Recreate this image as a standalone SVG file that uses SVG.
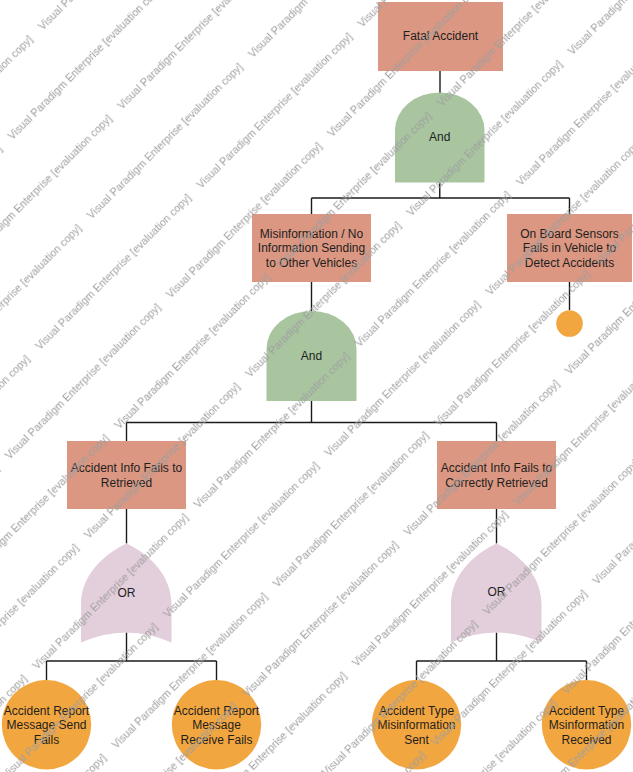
<svg xmlns="http://www.w3.org/2000/svg" width="633" height="772" viewBox="0 0 633 772">
  <style>
    .event { fill: #DB9782; }
    .basic { fill: #F2A640; }
    .and-gate { fill: #A9C5A0; }
    .or-gate { fill: #E3CEDC; }
    .label { font-family: "Liberation Sans", Arial, sans-serif; font-size: 12px; fill: #1e1e1e; text-anchor: middle; }
    .wire { fill: none; stroke: #1a1a1a; stroke-width: 1.4; }
    .wm { font-family: "Liberation Sans", Arial, sans-serif; font-size: 10.7px; letter-spacing: 0.05px; fill: #9e9e9e; }
  </style>
  <defs>
    <pattern id="watermark" patternUnits="userSpaceOnUse" width="228" height="112" patternTransform="rotate(-45)">
      <text class="wm" x="8.5" y="52">Visual Paradigm Enterprise [evaluation copy]</text>
      <text class="wm" x="137.5" y="108">Visual Paradigm Enterprise [evaluation copy]</text>
      <text class="wm" x="-90.5" y="108">Visual Paradigm Enterprise [evaluation copy]</text>
    </pattern>
  </defs>

  <rect width="633" height="772" fill="#ffffff"/>

  <!-- connectors -->
  <g id="connectors" class="wire">
    <path d="M440,71 V93"/>
    <path d="M439.75,182.5 V198"/>
    <path d="M311.5,198 H569.5"/>
    <path d="M311.5,198 V214"/>
    <path d="M569.5,198 V214"/>
    <path d="M311.5,282 V311"/>
    <path d="M569.5,282 V310"/>
    <path d="M311.5,401 V422.5"/>
    <path d="M126.5,422.5 H496.5"/>
    <path d="M126.5,422.5 V441"/>
    <path d="M496.5,422.5 V441"/>
    <path d="M126.5,509 V543.5"/>
    <path d="M496.5,509 V543.5"/>
    <path d="M126.5,632.5 V661"/>
    <path d="M46.5,661 H216.5"/>
    <path d="M46.5,661 V680"/>
    <path d="M216.5,661 V680"/>
    <path d="M496.5,632.5 V661"/>
    <path d="M416.5,661 H586.5"/>
    <path d="M416.5,661 V680"/>
    <path d="M586.5,661 V680"/>
  </g>

  <!-- top event -->
  <g id="fatal-accident">
    <rect class="event" x="378" y="2" width="125" height="69"/>
    <text class="label" x="440.5" y="40">Fatal Accident</text>
  </g>

  <g id="and-gate-1">
    <path class="and-gate" d="M395,182.5 L395,130 A44.75,37.5 0 0 1 484.5,130 L484.5,182.5 Z"/>
    <text class="label" x="439.75" y="141">And</text>
  </g>

  <g id="misinformation">
    <rect class="event" x="252" y="214" width="119" height="68"/>
    <text class="label" x="311.5" y="237.5">Misinformation / No</text>
    <text class="label" x="311.5" y="252">Information Sending</text>
    <text class="label" x="311.5" y="266.5">to Other Vehicles</text>
  </g>

  <g id="sensors-fail">
    <rect class="event" x="507" y="214" width="125" height="68"/>
    <text class="label" x="569.5" y="237.5">On Board Sensors</text>
    <text class="label" x="569.5" y="252">Fails in Vehicle to</text>
    <text class="label" x="569.5" y="266.5">Detect Accidents</text>
  </g>

  <g id="sensors-basic">
    <circle class="basic" cx="569.5" cy="323.5" r="13.3"/>
  </g>

  <g id="and-gate-2">
    <path class="and-gate" d="M266.5,401 L266.5,348.5 A45,37.5 0 0 1 356.5,348.5 L356.5,401 Z"/>
    <text class="label" x="311.5" y="360">And</text>
  </g>

  <g id="info-not-retrieved">
    <rect class="event" x="67" y="441" width="119" height="68"/>
    <text class="label" x="126.5" y="472">Accident Info Fails to</text>
    <text class="label" x="126.5" y="486.5">Retrieved</text>
  </g>

  <g id="info-not-correct">
    <rect class="event" x="437" y="441" width="119" height="68"/>
    <text class="label" x="496.5" y="472">Accident Info Fails to</text>
    <text class="label" x="496.5" y="486.5">Correctly Retrieved</text>
  </g>

  <g id="or-gate-1">
    <path class="or-gate" d="M126.5,543.5 C105,553 81,575 81,604 L81,642.5 Q126.25,622.5 171.5,642.5 L171.5,604 C171.5,575 148,553 126.5,543.5 Z"/>
    <text class="label" x="126.5" y="597">OR</text>
  </g>

  <g id="or-gate-2">
    <path class="or-gate" d="M496.5,543.5 C475,553 451,575 451,604 L451,642.5 Q496.25,622.5 541.5,642.5 L541.5,604 C541.5,575 518,553 496.5,543.5 Z"/>
    <text class="label" x="496.5" y="596">OR</text>
  </g>

  <g id="report-send-fails">
    <circle class="basic" cx="46.5" cy="724.7" r="44.7"/>
    <text class="label" x="46.5" y="715">Accident Report</text>
    <text class="label" x="46.5" y="729.3">Message Send</text>
    <text class="label" x="46.5" y="743.6">Fails</text>
  </g>

  <g id="report-receive-fails">
    <circle class="basic" cx="216.5" cy="724.7" r="44.7"/>
    <text class="label" x="216.5" y="715">Accident Report</text>
    <text class="label" x="216.5" y="729.3">Message</text>
    <text class="label" x="216.5" y="743.6">Receive Fails</text>
  </g>

  <g id="type-misinfo-sent">
    <circle class="basic" cx="416.5" cy="724.7" r="44.7"/>
    <text class="label" x="416.5" y="715">Accident Type</text>
    <text class="label" x="416.5" y="729.3">Misinformation</text>
    <text class="label" x="416.5" y="743.6">Sent</text>
  </g>

  <g id="type-misinfo-received">
    <circle class="basic" cx="586.5" cy="724.7" r="44.7"/>
    <text class="label" x="586.5" y="715">Accident Type</text>
    <text class="label" x="586.5" y="729.3">Msinformation</text>
    <text class="label" x="586.5" y="743.6">Received</text>
  </g>

  <!-- evaluation watermark laid over the whole sheet -->
  <rect width="633" height="772" fill="url(#watermark)" pointer-events="none"/>
</svg>
